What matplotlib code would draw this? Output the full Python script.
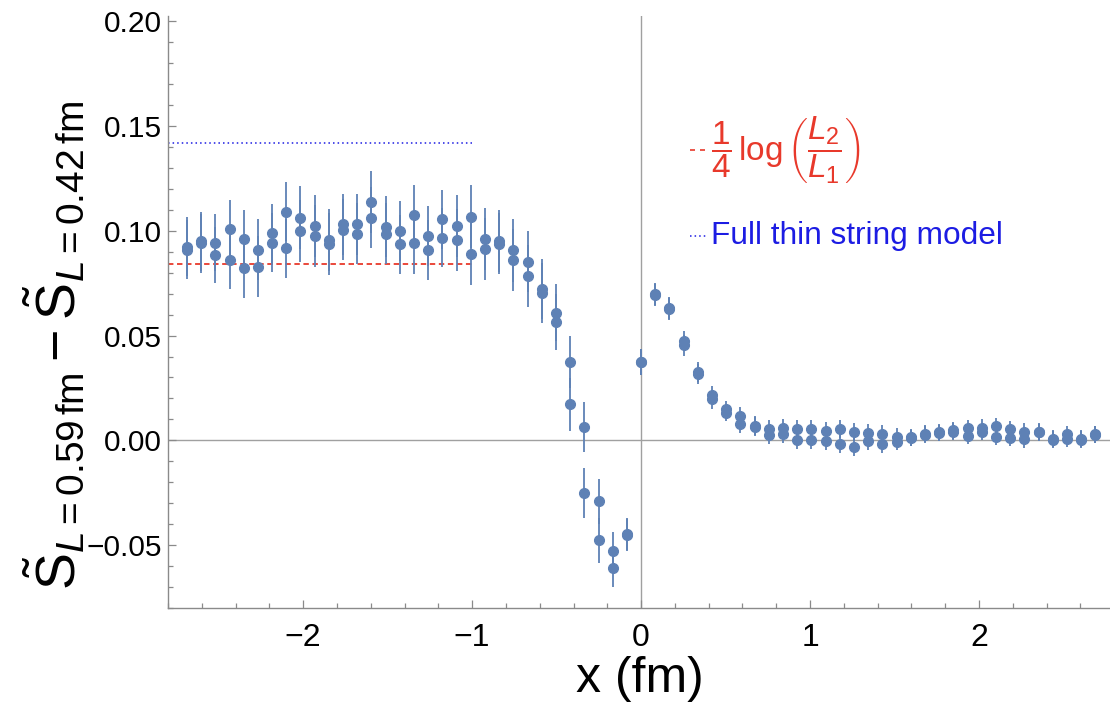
import numpy as np
import matplotlib
matplotlib.use("Agg")
import matplotlib.pyplot as plt
from matplotlib.ticker import MultipleLocator, FuncFormatter
from matplotlib.lines import Line2D

# ---- data -------------------------------------------------------------
a_lat = 0.084                      # lattice spacing (fm)
site = np.arange(-32, 33)          # lattice sites along the string axis

# two measurements per site
s_a = [0.0925, 0.0950, 0.0944, 0.1010, 0.0959, 0.0910, 0.0988, 0.1092,
       0.1063, 0.1023, 0.0956, 0.1031, 0.1031, 0.1138, 0.1020, 0.0999,
       0.1074, 0.0974, 0.1055, 0.1023, 0.1068, 0.0961, 0.0951, 0.0907,
       0.0853, 0.0721, 0.0610, 0.0374, 0.0065, -0.0290, -0.0528, -0.0446,
       0.0374,
       0.0697, 0.0630, 0.0474, 0.0325, 0.0215, 0.0148, 0.0116, 0.0070,
       0.0053, 0.0057, 0.0053, 0.0053, 0.0045, 0.0053, 0.0040, 0.0035,
       0.0029, 0.0018, 0.0015, 0.0031, 0.0039, 0.0048, 0.0057, 0.0060,
       0.0068, 0.0053, 0.0042, 0.0042, 0.0008, 0.0029, 0.0008, 0.0029]
s_b = [0.0910, 0.0940, 0.0885, 0.0859, 0.0821, 0.0829, 0.0942, 0.0916,
       0.0999, 0.0974, 0.0936, 0.1006, 0.0987, 0.1063, 0.0987, 0.0936,
       0.0942, 0.0910, 0.0967, 0.0955, 0.0891, 0.0913, 0.0939, 0.0861,
       0.0784, 0.0702, 0.0565, 0.0172, -0.0250, -0.0477, -0.0611, -0.0450,
       0.0374,
       0.0695, 0.0628, 0.0453, 0.0315, 0.0196, 0.0132, 0.0076, 0.0066,
       0.0025, 0.0029, 0.0002, 0.0002, -0.0003, -0.0019, -0.0030, -0.0005,
       -0.0016, -0.0008, 0.0011, 0.0027, 0.0035, 0.0042, 0.0021, 0.0040,
       0.0016, 0.0013, 0.0005, 0.0038, 0.0004, 0.0006, 0.0004, 0.0027]
err = [0.0141, 0.0142, 0.0135, 0.0139, 0.0141, 0.0145, 0.0141, 0.0142,
       0.0149, 0.0149, 0.0147, 0.0145, 0.0145, 0.0147, 0.0146, 0.0141,
       0.0146, 0.0143, 0.0142, 0.0149, 0.0149, 0.0149, 0.0147, 0.0149,
       0.0146, 0.0143, 0.0135, 0.0125, 0.0120, 0.0107, 0.0091, 0.0076,
       0.0062,
       0.0052, 0.0053, 0.0049, 0.0048, 0.0044, 0.0040, 0.0041, 0.0044,
       0.0044, 0.0043, 0.0043, 0.0043, 0.0043, 0.0043, 0.0043, 0.0042,
       0.0042, 0.0040, 0.0040, 0.0040, 0.0040, 0.0040, 0.0040, 0.0040,
       0.0040, 0.0040, 0.0040, 0.0040, 0.0040, 0.0040, 0.0040, 0.0040]

log_level = 0.084        # (1/4) log(L2/L1)
thin_string_level = 0.142
ref_x_range = [-2.8, -1.0]

x = site * a_lat

# ---- style ------------------------------------------------------------
SANS = "Liberation Sans"
plt.rcParams["font.family"] = [SANS, "DejaVu Sans"]
plt.rcParams["mathtext.fontset"] = "custom"
plt.rcParams["mathtext.rm"] = SANS
plt.rcParams["mathtext.it"] = SANS + ":italic"
plt.rcParams["mathtext.bf"] = SANS + ":bold"

W, H = 1110, 709
POINT_C = "#5E81B5"
RED = "#E8392B"
BLUE = "#1C1CE3"
AXIS_C = "#8a8a8a"

fig = plt.figure(figsize=(W / 100, H / 100), dpi=100)


def fx(px):
    return px / W


def fy(py):
    return 1 - py / H


ax = fig.add_axes([fx(168), fy(608), fx(W) - fx(168), fy(16) - fy(608)])
ax.set_xlim(-2.8, 2.775)
ax.set_ylim(-0.08, 0.2025)

# origin axes
ax.axhline(0, color="#a0a0a0", lw=1.0, zorder=1)
ax.axvline(0, color="#a0a0a0", lw=1.0, zorder=1)

# reference lines
ax.plot(ref_x_range, [log_level, log_level], color=RED, lw=1.3,
        dashes=(3, 2), zorder=2)
ax.plot(ref_x_range, [thin_string_level, thin_string_level], color=BLUE,
        lw=1.1, dashes=(1, 2), zorder=2)

# data with error bars
for series in (s_a, s_b):
    ax.errorbar(x, series, yerr=err, fmt="o", color=POINT_C, ms=7.0,
                mec=POINT_C, elinewidth=1.3, capsize=0, zorder=3)

# frame
for side in ("top", "right"):
    ax.spines[side].set_visible(False)
for side in ("left", "bottom"):
    ax.spines[side].set_color(AXIS_C)
    ax.spines[side].set_linewidth(1.0)

ax.xaxis.set_major_locator(MultipleLocator(1))
ax.xaxis.set_minor_locator(MultipleLocator(0.2))
ax.yaxis.set_major_locator(MultipleLocator(0.05))
ax.yaxis.set_minor_locator(MultipleLocator(0.01))

ax.xaxis.set_major_formatter(FuncFormatter(lambda v, p: f"{v:.0f}".replace("-", "\u2212")))
ax.yaxis.set_major_formatter(FuncFormatter(lambda v, p: f"{v:.2f}".replace("-", "\u2212")))

ax.tick_params(which="both", direction="in", color=AXIS_C, width=0.9)
ax.tick_params(which="major", length=6)
ax.tick_params(which="minor", length=3.5)
ax.tick_params(axis="y", labelsize=21.5, pad=4.5)
ax.tick_params(axis="x", labelsize=23, pad=11)

# axis titles
fig.text(fx(640), fy(692), "x (fm)", fontsize=36,
         ha="center", va="baseline")
fig.text(fx(55), fy(345),
         r"$\tilde{\mathrm{S}}_{L=0.59\,\mathrm{fm}}-\tilde{\mathrm{S}}_{L=0.42\,\mathrm{fm}}$",
         fontsize=40, rotation=90, ha="center", va="center")

# legend
fig.add_artist(Line2D([fx(690), fx(707)], [fy(150), fy(150)], color=RED,
                      lw=1.2, dashes=(3, 3)))
fig.text(fx(711), fy(150),
         r"$\dfrac{1}{4}\,\log\left(\dfrac{L_2}{L_1}\right)$",
         fontsize=24, color=RED, ha="left", va="center")
fig.add_artist(Line2D([fx(690), fx(707)], [fy(236), fy(236)], color=BLUE,
                      lw=1.1, dashes=(1, 2)))
fig.text(fx(711), fy(236), "Full thin string model", fontsize=22.8,
         color=BLUE, ha="left", va="center")

fig.savefig("out.png", dpi=100)
